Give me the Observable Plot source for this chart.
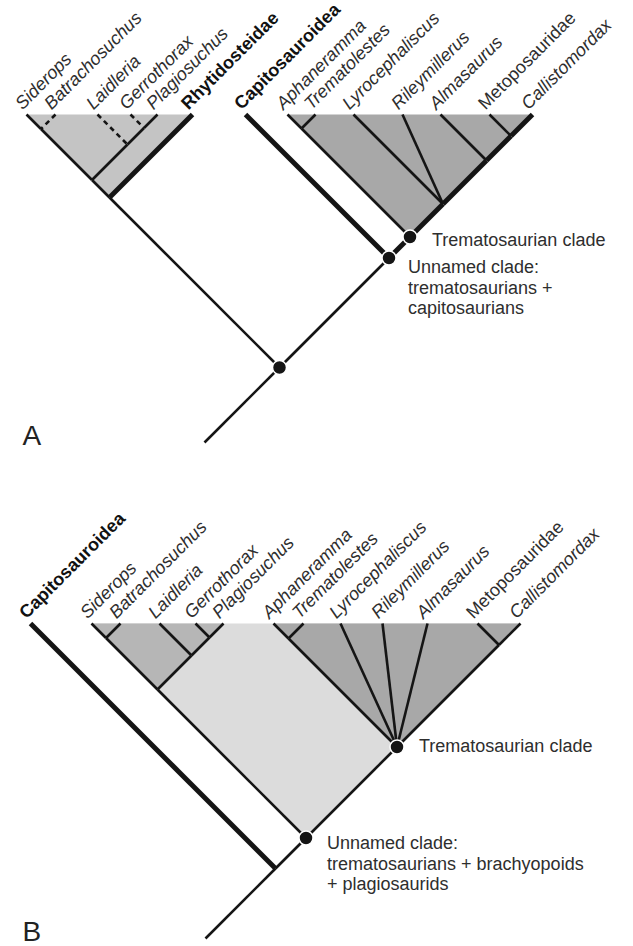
<!DOCTYPE html>
<html><head><meta charset="utf-8">
<script src="https://cdn.jsdelivr.net/npm/d3@7"></script>
<script src="https://cdn.jsdelivr.net/npm/@observablehq/plot@0.6"></script>
<style>body{margin:0;background:#fff} svg{display:block}</style>
</head><body><div id="chart"></div>
<script>
// ---------- Panel A data ----------
const taxaA = ["Siderops","Batrachosuchus","Laidleria","Gerrothorax","Plagiosuchus","Rhytidosteidae","Capitosauroidea","Aphaneramma","Trematolestes","Lyrocephaliscus","Rileymillerus","Almasaurus","Metoposauridae","Callistomordax"];
const tipPositionsA = [26, 55, 97, 130, 157, 192, 245, 287, 315, 353, 402, 440, 489, 532];
const treeA = [[[["Siderops","Batrachosuchus"],["Laidleria",["Gerrothorax","Plagiosuchus"]]],"Rhytidosteidae"],
  ["Capitosauroidea",[["Aphaneramma","Trematolestes"],["Lyrocephaliscus","Rileymillerus",["Almasaurus",["Metoposauridae","Callistomordax"]]]]]];
const emphasizedA = ["Rhytidosteidae","Capitosauroidea","Aphaneramma–Callistomordax","Lyrocephaliscus–Callistomordax","Almasaurus–Callistomordax","Metoposauridae–Callistomordax","Callistomordax"];
const uncertainA = ["Batrachosuchus","Laidleria","Gerrothorax"];
const shadedA = [["Siderops–Rhytidosteidae","mid"],["Aphaneramma–Callistomordax","dark"]];
const markedNodesA = ["Siderops–Callistomordax","Capitosauroidea–Callistomordax","Aphaneramma–Callistomordax"];
const nodeNotesA = [["Aphaneramma–Callistomordax","Trematosaurian clade"],["Capitosauroidea–Callistomordax","Unnamed clade:\ntrematosaurians +\ncapitosaurians"]];

// ---------- Panel B data ----------
const taxaB = ["Capitosauroidea","Siderops","Batrachosuchus","Laidleria","Gerrothorax","Plagiosuchus","Aphaneramma","Trematolestes","Lyrocephaliscus","Rileymillerus","Almasaurus","Metoposauridae","Callistomordax"];
const tipPositionsB = [30, 91, 120, 159, 195, 223, 273, 303, 340, 382, 427, 477, 520];
const treeB = ["Capitosauroidea",[[["Siderops","Batrachosuchus"],["Laidleria",["Gerrothorax","Plagiosuchus"]]],
  [["Aphaneramma","Trematolestes"],"Lyrocephaliscus","Rileymillerus","Almasaurus",["Metoposauridae","Callistomordax"]]]];
const emphasizedB = ["Capitosauroidea"];
const uncertainB = [];
const shadedB = [["Siderops–Callistomordax","light"],["Siderops–Plagiosuchus","mid2"],["Aphaneramma–Callistomordax","dark"]];
const markedNodesB = ["Siderops–Callistomordax","Aphaneramma–Callistomordax"];
const nodeNotesB = [["Aphaneramma–Callistomordax","Trematosaurian clade"],["Siderops–Callistomordax","Unnamed clade:\ntrematosaurians + brachyopoids\n+ plagiosaurids"]];

const boldTaxa = ["Rhytidosteidae","Capitosauroidea"];
const uprightTaxa = ["Metoposauridae"];
const toneColors = {light: "#dcdcdc", mid: "#c4c4c4", mid2: "#b6b6b6", dark: "#a8a8a8"};

function build(panel, tree, taxa, positions, top, stem, emphasized, uncertain, shaded, marked, notes) {
  const pos = new Map(taxa.map((t, i) => [t, positions[i]]));
  const root = d3.hierarchy(tree, d => Array.isArray(d) ? d : null);
  const byKey = new Map();
  root.each(n => {
    const leaves = n.leaves().map(l => l.data);
    const xs = leaves.map(l => pos.get(l));
    n.lo = d3.min(xs); n.hi = d3.max(xs);
    n.key = n.children ? `${leaves[0]}–${leaves[leaves.length - 1]}` : n.data;
    n.px = (n.lo + n.hi) / 2; n.py = top + (n.hi - n.lo) / 2;
    byKey.set(n.key, n);
  });
  const edges = root.descendants().filter(n => n.parent).map(n => ({
    panel, key: n.key, x1: n.px, y1: n.py, x2: n.parent.px, y2: n.parent.py,
    bold: emphasized.includes(n.key), dashed: uncertain.includes(n.key)
  }));
  edges.push({panel, key: "stem", x1: root.px, y1: root.py, x2: root.px - stem, y2: root.py + stem, bold: false, dashed: false});
  const polys = shaded.map(([k, tone]) => {
    const n = byKey.get(k);
    return {tone, pts: [[n.lo, top], [n.hi, top], [n.px, n.py], [n.lo, top]].map(([x, y]) => ({x, y}))};
  });
  const tips = root.leaves().map(n => ({name: n.data, x: n.px, y: n.py}));
  const dots = marked.map(k => ({x: byKey.get(k).px, y: byKey.get(k).py}));
  const notes2 = notes.map(([k, text]) => ({x: byKey.get(k).px, y: byKey.get(k).py, text, multi: text.includes("\n")}));
  return {edges, polys, tips, dots, notes: notes2, stemEnd: {x: root.px - stem, y: root.py + stem, panel}};
}

const A = build("A", treeA, taxaA, tipPositionsA, 114, 75, emphasizedA, uncertainA, shadedA, markedNodesA, nodeNotesA);
const B = build("B", treeB, taxaB, tipPositionsB, 623, 70, emphasizedB, uncertainB, shadedB, markedNodesB, nodeNotesB);

const edges = [...A.edges, ...B.edges];
const polys = [...A.polys, ...B.polys];
const tips = [...A.tips, ...B.tips];
const dots = [...A.dots, ...B.dots];
const notesA = A.notes, notesB = B.notes;
const ink = "#151515";
const txt = "#2e2e2e";
const FS = 18;

const marks = [];
for (const p of polys) marks.push(Plot.line(p.pts, {x: "x", y: "y", fill: toneColors[p.tone], stroke: "none"}));
marks.push(Plot.link(edges.filter(e => !e.dashed && !e.bold), {x1: "x1", y1: "y1", x2: "x2", y2: "y2", stroke: ink, strokeWidth: 2.6, strokeLinecap: "butt"}));
marks.push(Plot.link(edges.filter(e => e.dashed), {x1: "x1", y1: "y1", x2: "x2", y2: "y2", stroke: ink, strokeWidth: 2.6, strokeDasharray: "5,4"}));
marks.push(Plot.link(edges.filter(e => e.bold), {x1: "x1", y1: "y1", x2: "x2", y2: "y2", stroke: ink, strokeWidth: 5, strokeLinecap: "butt"}));
marks.push(Plot.dot(dots, {x: "x", y: "y", r: 7, fill: ink, stroke: "#fff", strokeWidth: 1.5}));
const tipOpts = {x: "x", y: "y", text: "name", rotate: -45, textAnchor: "start", lineAnchor: "bottom", dx: -4, dy: -4, fontSize: FS, fill: txt};
marks.push(Plot.text(tips.filter(t => !boldTaxa.includes(t.name) && !uprightTaxa.includes(t.name)), {...tipOpts, fontStyle: "italic"}));
marks.push(Plot.text(tips.filter(t => uprightTaxa.includes(t.name)), tipOpts));
marks.push(Plot.text(tips.filter(t => boldTaxa.includes(t.name)), {...tipOpts, fontWeight: "bold", fill: "#111"}));
marks.push(Plot.text(notesA.filter(n => !n.multi), {x: "x", y: "y", text: "text", textAnchor: "start", dx: 22, dy: 3, fontSize: FS, fill: txt}));
marks.push(Plot.text(notesA.filter(n => n.multi), {x: "x", y: "y", text: "text", textAnchor: "start", lineHeight: 1.14, dx: 19, dy: 29, fontSize: FS, fill: txt}));
marks.push(Plot.text(notesB.filter(n => !n.multi), {x: "x", y: "y", text: "text", textAnchor: "start", dx: 22, dy: -1, fontSize: FS, fill: txt}));
marks.push(Plot.text(notesB.filter(n => n.multi), {x: "x", y: "y", text: "text", textAnchor: "start", lineHeight: 1.14, dx: 21, dy: 25, fontSize: FS, fill: txt}));
marks.push(Plot.text([A.stemEnd, B.stemEnd], {x: () => 22, y: "y", text: "panel", textAnchor: "start", lineAnchor: "bottom", dy: 2, fontSize: 28, fill: "#222"}));

const chart = Plot.plot({
  width: 633, height: 946, margin: 0,
  x: {domain: [0, 633], range: [0, 633], axis: null},
  y: {domain: [0, 946], range: [0, 946], axis: null},
  style: {fontFamily: "'Liberation Sans', Arial, Helvetica, sans-serif", background: "#fff"},
  marks
});
document.getElementById("chart").appendChild(chart);
</script>
</body></html>
